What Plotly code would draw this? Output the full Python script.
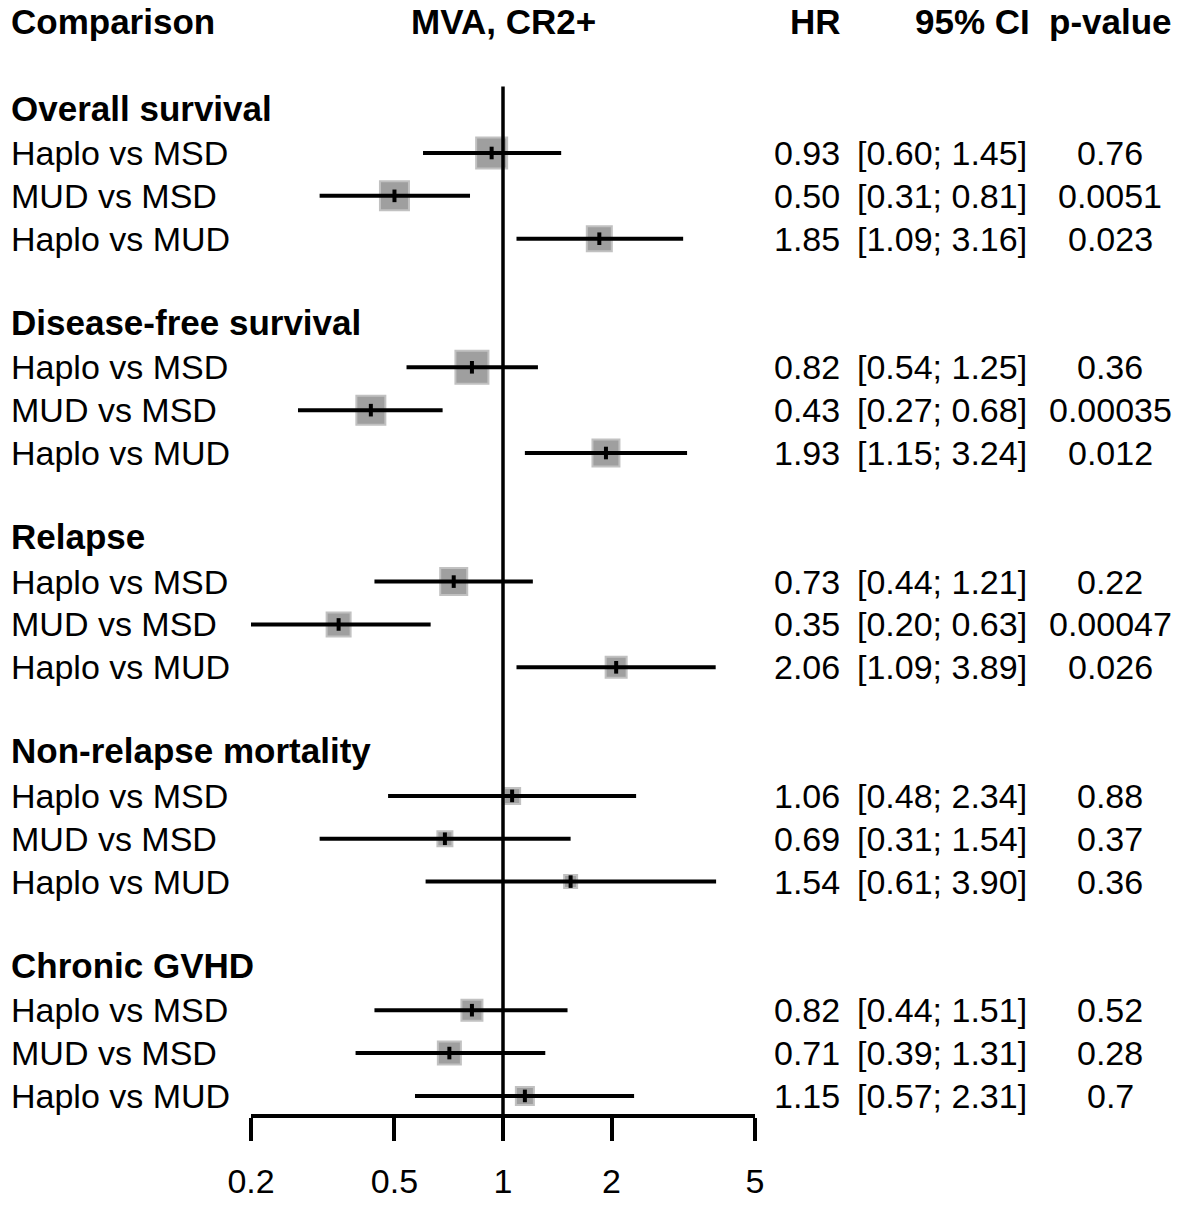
import math
import plotly.graph_objects as go

# forest plot: MVA, CR2+
groups = ["Overall survival", "Disease-free survival", "Relapse",
          "Non-relapse mortality", "Chronic GVHD"]
comparisons = ["Haplo vs MSD", "MUD vs MSD", "Haplo vs MUD"]

hr = [0.93, 0.50, 1.85,
      0.82, 0.43, 1.93,
      0.73, 0.35, 2.06,
      1.06, 0.69, 1.54,
      0.82, 0.71, 1.15]
ci_low = [0.60, 0.31, 1.09,
          0.54, 0.27, 1.15,
          0.44, 0.20, 1.09,
          0.48, 0.31, 0.61,
          0.44, 0.39, 0.57]
ci_high = [1.45, 0.81, 3.16,
           1.25, 0.68, 3.24,
           1.21, 0.63, 3.89,
           2.34, 1.54, 3.90,
           1.51, 1.31, 2.31]
p_values = ["0.76", "0.0051", "0.023",
            "0.36", "0.00035", "0.012",
            "0.22", "0.00047", "0.026",
            "0.88", "0.37", "0.36",
            "0.52", "0.28", "0.7"]
x_ticks = [0.2, 0.5, 1, 2, 5]

# box sizes in px (study weights)
box_px = [31, 29, 25, 33, 29, 27, 27, 24, 21, 16, 15, 13, 21, 23, 18]

# the page puts the plot 8px in from the corner, so the figure is a bit smaller
PAGE = 8
FW, FH = 1181 - 2 * PAGE, 1206 - 2 * PAGE
FONT = "Liberation Sans, Arial, sans-serif"
FS = 34
FB = 35

# row index layout: 0 header, 2 first group title, each group takes 5 lines
row_k = []
title_k = []
for g in range(len(groups)):
    title_k.append(2 + 5 * g)
    for j in range(len(comparisons)):
        row_k.append(3 + 5 * g + j)

ROW_H = 42.86          # px per line
ROW3_Y = 153 - PAGE    # first data row centre, figure px
y_top = 3 - ROW3_Y / ROW_H
y_bot = 3 + (FH - ROW3_Y) / ROW_H
axis_k = row_k[-1] + 0.47


def px(x):
    return (x - PAGE) / FW


fig = go.Figure()

fig.add_trace(go.Scatter(
    x=hr, y=row_k, mode="markers", opacity=1,
    marker=dict(symbol="square", size=box_px, color="#777777",
                line=dict(color="#a8a8a8", width=2)),
    hoverinfo="skip"))

wx, wy = [], []
for lo, hi, k in zip(ci_low, ci_high, row_k):
    wx += [lo, hi, None]
    wy += [k, k, None]
fig.add_trace(go.Scatter(x=wx, y=wy, mode="lines",
                         line=dict(color="black", width=4), hoverinfo="skip"))

fig.add_trace(go.Scatter(
    x=hr, y=row_k, mode="markers",
    marker=dict(symbol="line-ns", size=9, line=dict(color="black", width=4)),
    hoverinfo="skip"))

# line of no effect
fig.add_shape(type="line", xref="x", yref="y", x0=1, x1=1,
              y0=title_k[0] - 0.55, y1=axis_k, line=dict(color="black", width=3.5))

ann = []


def txt(x, k, s, anchor, bold=False):
    ann.append(dict(x=px(x), y=k, xref="paper", yref="y", text=s,
                    xanchor=anchor, yanchor="middle", showarrow=False,
                    font=dict(family=FONT, size=FB if bold else FS, color="black",
                              weight="bold" if bold else "normal")))


HEAD_K = -0.07
txt(9, HEAD_K, "Comparison", "left", True)
txt(503, HEAD_K, "MVA, CR2+", "center", True)
txt(843, HEAD_K, "HR", "right", True)
txt(1032, HEAD_K, "95% CI", "right", True)
txt(1110, HEAD_K, "p-value", "center", True)

for g, k in zip(groups, title_k):
    txt(9, k - 0.05, g, "left", True)

for i, k in enumerate(row_k):
    txt(9, k, comparisons[i % 3], "left")
    txt(842, k, f"{hr[i]:.2f}", "right")
    txt(855, k, f"[{ci_low[i]:.2f}; {ci_high[i]:.2f}]", "left")
    txt(1110, k, p_values[i], "center")

fig.update_layout(
    width=FW, height=FH,
    margin=dict(l=0, r=0, t=0, b=0, autoexpand=False),
    paper_bgcolor="white", plot_bgcolor="white",
    showlegend=False,
    annotations=ann,
    xaxis=dict(type="log", range=[math.log10(0.2), math.log10(5)],
               domain=[px(251), px(755)], anchor="free",
               position=(y_bot - axis_k) / (y_bot - y_top),
               automargin=False,
               showline=True, linecolor="black", linewidth=3.5,
               ticks="outside", ticklen=23, tickwidth=3.5, tickcolor="black",
               ticklabelstandoff=11,
               tickvals=x_ticks, ticktext=[str(t) for t in x_ticks],
               tickfont=dict(family=FONT, size=FS, color="black"),
               showgrid=False, zeroline=False),
    yaxis=dict(range=[y_bot, y_top], domain=[0, 1], visible=False,
               automargin=False, showgrid=False, zeroline=False),
)

fig.write_html("out.html")
